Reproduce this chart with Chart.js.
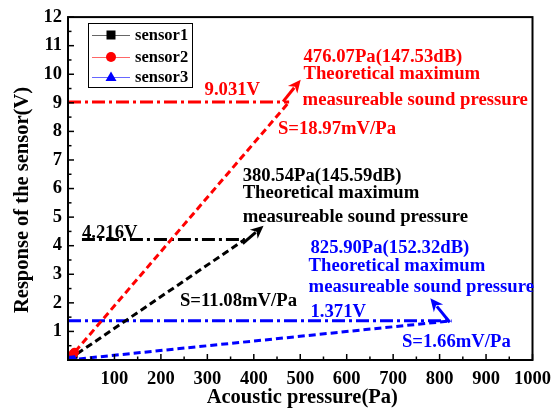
<!DOCTYPE html>
<html>
<head>
<meta charset="utf-8">
<script src="https://cdn.jsdelivr.net/npm/chart.js@4/dist/chart.umd.min.js"></script>
<style>
  html, body { margin: 0; padding: 0; background: #fff; }
  canvas { display: block; }
</style>
</head>
<body>
<canvas id="c" width="559" height="411"></canvas>
<script>
const FONT = '"Liberation Serif", "Times New Roman", serif';

// Measured responses near the origin (Pa, V)
const pressures = [1, 2, 4, 6, 8, 10, 12, 14];
const sensor1 = [0.01, 0.02, 0.05, 0.07, 0.09, 0.11, 0.13, 0.16];
const sensor2 = [0.02, 0.04, 0.08, 0.11, 0.15, 0.19, 0.23, 0.27];
const sensor3 = [0.002, 0.003, 0.007, 0.010, 0.013, 0.017, 0.020, 0.023];

// Series names and colours
const names = ['sensor1', 'sensor2', 'sensor3'];
const colors = ['#000000', '#ff0000', '#0000ff'];
const pointStyles = ['rect', 'circle', 'triangle'];

// Theoretical limits per sensor
const maxPressure = [380.54, 476.07, 825.90];   // Pa
const maxLevel = [145.59, 147.53, 152.32];      // dB
const maxVoltage = [4.216, 9.031, 1.371];       // V
const sensitivity = [11.08, 18.97, 1.66];       // mV/Pa
const levelLineStart = [30, 0, 0];              // Pa

// Axis ticks
const xTickValues = [100, 200, 300, 400, 500, 600, 700, 800, 900, 1000];
const yTickValues = [1, 2, 3, 4, 5, 6, 7, 8, 9, 10, 11, 12];

// Label placement (data units: left x, middle y)
const notePlace = [
  { head: [376, 6.43], l1: [376, 5.84], l2: [376, 5.01], volt: [30, 4.45], sens: [241, 2.05] },
  { head: [507, 10.61], l1: [507, 10.02], l2: [505, 9.11], volt: [294, 9.46], sens: [452, 8.07] },
  { head: [522, 3.93], l1: [518, 3.30], l2: [518, 2.54], volt: [522, 1.67], sens: [719, 0.63] }
];
// Pointer arrows (data units: tail, tip)
const arrows = [
  { from: [376, 4.07], to: [421, 4.70] },
  { from: [463, 9.04], to: [501, 9.81] },
  { from: [822, 1.32], to: [780, 2.16] }
];

const measured = [sensor1, sensor2, sensor3];
const datasets = [];
// measured points: blue on top, then red, then black
[0, 1, 2].forEach(i => {
  datasets.push({
    label: names[i],
    data: pressures.map((p, k) => ({ x: p, y: measured[i][k] })),
    showLine: true,
    borderColor: colors[i],
    backgroundColor: colors[i],
    borderWidth: 1,
    pointStyle: pointStyles[i],
    pointRadius: 4.5,
    pointBorderWidth: 0,
    order: 2 - i
  });
});
// linear fits up to the theoretical limit
[0, 1, 2].forEach(i => {
  datasets.push({
    label: names[i] + ' fit',
    data: [{ x: 0, y: 0 }, { x: maxPressure[i], y: maxVoltage[i] }],
    showLine: true,
    borderColor: colors[i],
    borderWidth: 3,
    borderDash: [7, 4],
    pointRadius: 0,
    order: 10 - i
  });
});
// output voltage level at the limit
[0, 1, 2].forEach(i => {
  datasets.push({
    label: names[i] + ' level',
    data: [{ x: levelLineStart[i], y: maxVoltage[i] }, { x: maxPressure[i], y: maxVoltage[i] }],
    showLine: true,
    borderColor: colors[i],
    borderWidth: 3,
    borderDash: [13, 4, 3, 4],
    pointRadius: 0,
    order: 20 - i
  });
});

function drawMarker(ctx, style, x, y, r) {
  ctx.beginPath();
  if (style === 'rect') {
    ctx.rect(x - r, y - r, 2 * r, 2 * r);
  } else if (style === 'circle') {
    ctx.arc(x, y, r, 0, Math.PI * 2);
  } else {
    ctx.moveTo(x, y - r * 1.1);
    ctx.lineTo(x + r * 1.1, y + r * 0.8);
    ctx.lineTo(x - r * 1.1, y + r * 0.8);
    ctx.closePath();
  }
  ctx.fill();
}

const decorations = {
  id: 'decorations',
  afterDatasetsDraw(chart) {
    const { ctx, chartArea: a, scales: { x, y } } = chart;
    ctx.save();
    ctx.strokeStyle = '#000';
    ctx.lineWidth = 1.5;
    // inward major and minor ticks on the bottom and left axes
    const xs = [0].concat(xTickValues);
    xs.forEach((v, k) => {
      const px = x.getPixelForValue(v);
      ctx.beginPath(); ctx.moveTo(px, a.bottom); ctx.lineTo(px, a.bottom - 6); ctx.stroke();
      if (k < xs.length - 1) {
        const pm = x.getPixelForValue((v + xs[k + 1]) / 2);
        ctx.beginPath(); ctx.moveTo(pm, a.bottom); ctx.lineTo(pm, a.bottom - 3.5); ctx.stroke();
      }
    });
    const ys = [0].concat(yTickValues);
    ys.forEach((v, k) => {
      const py = y.getPixelForValue(v);
      ctx.beginPath(); ctx.moveTo(a.left, py); ctx.lineTo(a.left + 6, py); ctx.stroke();
      if (k < ys.length - 1) {
        const pm = y.getPixelForValue((v + ys[k + 1]) / 2);
        ctx.beginPath(); ctx.moveTo(a.left, pm); ctx.lineTo(a.left + 3.5, pm); ctx.stroke();
      }
    });
    // frame
    ctx.lineWidth = 2;
    ctx.strokeRect(a.left, a.top, a.right - a.left, a.bottom - a.top);

    // arrows
    arrows.forEach((ar, i) => {
      const x0 = x.getPixelForValue(ar.from[0]), y0 = y.getPixelForValue(ar.from[1]);
      const x1 = x.getPixelForValue(ar.to[0]), y1 = y.getPixelForValue(ar.to[1]);
      const ang = Math.atan2(y1 - y0, x1 - x0);
      const hl = 13, hw = 6;
      ctx.strokeStyle = colors[i];
      ctx.fillStyle = colors[i];
      ctx.lineWidth = 3;
      ctx.beginPath();
      ctx.moveTo(x0, y0);
      ctx.lineTo(x1 - Math.cos(ang) * hl * 0.8, y1 - Math.sin(ang) * hl * 0.8);
      ctx.stroke();
      ctx.beginPath();
      ctx.moveTo(x1, y1);
      ctx.lineTo(x1 - Math.cos(ang) * hl - Math.sin(ang) * hw, y1 - Math.sin(ang) * hl + Math.cos(ang) * hw);
      ctx.lineTo(x1 - Math.cos(ang) * hl * 0.7, y1 - Math.sin(ang) * hl * 0.7);
      ctx.lineTo(x1 - Math.cos(ang) * hl + Math.sin(ang) * hw, y1 - Math.sin(ang) * hl - Math.cos(ang) * hw);
      ctx.closePath();
      ctx.fill();
    });

    // notes
    ctx.font = 'bold 18.7px ' + FONT;
    ctx.textAlign = 'left';
    ctx.textBaseline = 'middle';
    notePlace.forEach((p, i) => {
      ctx.fillStyle = colors[i];
      const put = (t, pos) => ctx.fillText(t, x.getPixelForValue(pos[0]), y.getPixelForValue(pos[1]));
      put(maxPressure[i].toFixed(2) + 'Pa(' + maxLevel[i].toFixed(2) + 'dB)', p.head);
      put('Theoretical maximum', p.l1);
      put('measureable sound pressure', p.l2);
      put(maxVoltage[i].toFixed(3) + 'V', p.volt);
      put('S=' + sensitivity[i].toFixed(2) + 'mV/Pa', p.sens);
    });

    // legend
    const lx = 88, ly = 23, lw = 104, lh = 64;
    ctx.fillStyle = '#fff';
    ctx.fillRect(lx, ly, lw, lh);
    ctx.strokeStyle = '#000';
    ctx.lineWidth = 1;
    ctx.strokeRect(lx + 0.5, ly + 0.5, lw, lh);
    const rows = [35, 57, 77];
    ctx.font = 'bold 16.5px ' + FONT;
    names.forEach((n, i) => {
      const ds = chart.data.datasets[i];
      ctx.strokeStyle = ds.borderColor;
      ctx.globalAlpha = 0.6;
      ctx.lineWidth = 1;
      ctx.beginPath(); ctx.moveTo(92, rows[i] + 0.5); ctx.lineTo(130, rows[i] + 0.5); ctx.stroke();
      ctx.globalAlpha = 1;
      ctx.fillStyle = ds.backgroundColor;
      drawMarker(ctx, ds.pointStyle, 111, rows[i], ds.pointStyle === 'rect' ? 4.5 : 5);
      ctx.fillStyle = '#000';
      ctx.fillText(n, 135, rows[i] + 1);
    });

    // axis titles
    ctx.fillStyle = '#000';
    ctx.font = 'bold 20.5px ' + FONT;
    ctx.textAlign = 'center';
    ctx.fillText('Acoustic pressure(Pa)', (a.left + a.right) / 2 + 2, 398);
    ctx.translate(23, 200);
    ctx.rotate(-Math.PI / 2);
    ctx.fillText('Response of the sensor(V)', 0, 0);
    ctx.restore();
  }
};

new Chart(document.getElementById('c'), {
  type: 'scatter',
  data: { datasets },
  options: {
    responsive: false,
    animation: false,
    layout: { padding: { top: 15, right: 18, left: 0, bottom: 0 } },
    plugins: { legend: { display: false }, tooltip: { enabled: false } },
    scales: {
      x: {
        type: 'linear', min: 0, max: 1000,
        afterBuildTicks: s => { s.ticks = xTickValues.map(v => ({ value: v })); },
        afterFit: s => { s.height = 51; },
        grid: { display: false, drawTicks: false },
        border: { display: false },
        ticks: { color: '#000', padding: 8, maxRotation: 0, autoSkip: false,
                 callback: v => String(v),
                 font: { family: FONT, size: 18.5, weight: 'bold' } }
      },
      y: {
        type: 'linear', min: 0, max: 12,
        afterBuildTicks: s => { s.ticks = yTickValues.map(v => ({ value: v })); },
        afterFit: s => { s.width = 68; },
        grid: { display: false, drawTicks: false },
        border: { display: false },
        ticks: { color: '#000', padding: 6, autoSkip: false,
                 callback: v => String(v),
                 font: { family: FONT, size: 18.5, weight: 'bold' } }
      }
    }
  },
  plugins: [decorations]
});
</script>
</body>
</html>
